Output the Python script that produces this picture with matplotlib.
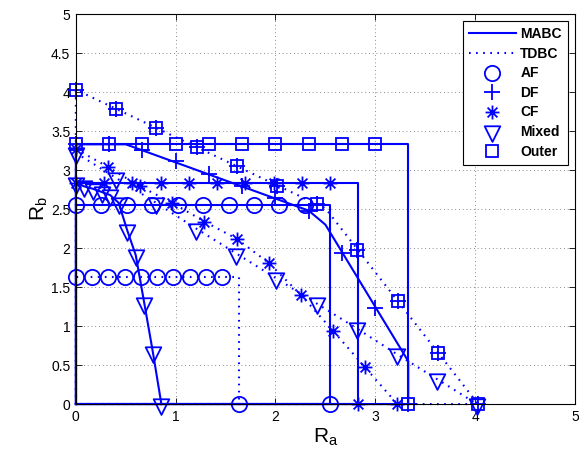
import numpy as np
import matplotlib
matplotlib.use("Agg")
import matplotlib.pyplot as plt
from matplotlib.lines import Line2D
from matplotlib.path import Path

plt.rcParams['font.family'] = ['Liberation Sans', 'DejaVu Sans']

# ---- data (R_a, R_b) ----
# AF
af_mabc_x = [0, 0.255, 0.51, 0.765, 1.02, 1.275, 1.53, 1.785, 2.04, 2.295, 2.55]
af_mabc_y = [2.55, 2.55, 2.55, 2.55, 2.55, 2.55, 2.55, 2.55, 2.55, 2.55, 0]
af_mabc_line_x = [0, 0, 2.55, 2.55, 0]
af_mabc_line_y = [0, 2.55, 2.55, 0, 0]

af_tdbc_x = [0, 0.163, 0.326, 0.489, 0.652, 0.815, 0.978, 1.141, 1.304, 1.467, 1.63]
af_tdbc_y = [1.63, 1.63, 1.63, 1.63, 1.63, 1.63, 1.63, 1.63, 1.63, 1.63, 0]
af_tdbc_line_x = [0, 0, 1.63, 1.63, 0]
af_tdbc_line_y = [0, 1.63, 1.63, 0, 0]

# DF
df_mabc_x = [0, 0.333, 0.667, 1.0, 1.333, 1.667, 2.0, 2.333, 2.667, 3.0, 3.33]
df_mabc_y = [3.33, 3.33, 3.26, 3.11, 2.95, 2.79, 2.64, 2.48, 1.94, 1.23, 0]
df_mabc_line_x = [0, 0, 0.5, 2.333, 2.5, 3.33, 3.33, 0]
df_mabc_line_y = [0, 3.33, 3.33, 2.48, 2.3, 0.55, 0, 0]

df_tdbc_x = [0, 0.403, 0.806, 1.209, 1.612, 2.015, 2.418, 2.821, 3.224, 3.627, 4.03]
df_tdbc_y = [4.03, 3.78, 3.54, 3.29, 3.05, 2.80, 2.56, 1.98, 1.32, 0.66, 0]

# CF
cf_mabc_x = [0, 0.283, 0.566, 0.849, 1.132, 1.415, 1.698, 1.981, 2.264, 2.547, 2.83]
cf_mabc_y = [2.83, 2.83, 2.83, 2.83, 2.83, 2.83, 2.83, 2.83, 2.83, 2.83, 0]
cf_mabc_line_x = [0, 0, 2.83, 2.83, 0]
cf_mabc_line_y = [0, 2.83, 2.83, 0, 0]

cf_tdbc_x = [0, 0.322, 0.644, 0.966, 1.288, 1.61, 1.932, 2.254, 2.576, 2.898, 3.22]
cf_tdbc_y = [3.27, 3.04, 2.79, 2.58, 2.34, 2.12, 1.81, 1.40, 0.94, 0.47, 0]

# Mixed
mix_mabc_x = [0, 0.086, 0.171, 0.257, 0.343, 0.429, 0.514, 0.6, 0.686, 0.771, 0.857]
mix_mabc_y = [2.83, 2.79, 2.76, 2.72, 2.68, 2.58, 2.23, 1.91, 1.29, 0.67, 0]

mix_tdbc_x = [0, 0.402, 0.804, 1.206, 1.608, 2.01, 2.412, 2.814, 3.216, 3.618, 4.02]
mix_tdbc_y = [3.22, 2.90, 2.58, 2.25, 1.93, 1.61, 1.29, 0.97, 0.64, 0.32, 0]

# Outer bounds
out_mabc_x = [0, 0.333, 0.667, 1.0, 1.333, 1.667, 2.0, 2.333, 2.667, 3.0, 3.33]
out_mabc_y = [3.33, 3.33, 3.33, 3.33, 3.33, 3.33, 3.33, 3.33, 3.33, 3.33, 0]
out_mabc_line_x = [0, 0, 3.33, 3.33, 0]
out_mabc_line_y = [0, 3.33, 3.33, 0, 0]

out_tdbc_x = [0, 0.403, 0.806, 1.209, 1.612, 2.015, 2.418, 2.821, 3.224, 3.627, 4.03]
out_tdbc_y = [4.03, 3.78, 3.54, 3.29, 3.05, 2.80, 2.56, 1.98, 1.32, 0.66, 0]
out_tdbc_line_x = [0, 0, 2.5, 4.03, 0]
out_tdbc_line_y = [0, 4.03, 2.51, 0, 0]

x_ticks = [0, 1, 2, 3, 4, 5]
y_ticks = [0, 0.5, 1, 1.5, 2, 2.5, 3, 3.5, 4, 4.5, 5]
y_tick_labels = ['0', '0.5', '1', '1.5', '2', '2.5', '3', '3.5', '4', '4.5', '5']

legend_labels = ['MABC', 'TDBC', 'AF', 'DF', 'CF', 'Mixed', 'Outer']

# ---- styles ----
BLUE = (0, 0, 1)
LW = 1.5
DOT = (0, (0.8, 2.6))
# downward triangle centred on its centroid (like MATLAB)
tri_down = Path([(-1, 0.667), (1, 0.667), (0, -1.333), (-1, 0.667)],
                [Path.MOVETO, Path.LINETO, Path.LINETO, Path.CLOSEPOLY])
# MATLAB-style asterisk: plus and cross overlaid
d = 0.707
star = Path([(-1, 0), (1, 0), (0, -1), (0, 1), (-d, -d), (d, d), (-d, d), (d, -d)],
            [Path.MOVETO, Path.LINETO] * 4)
mk = {
    'AF': dict(marker='o', ms=11),
    'DF': dict(marker='+', ms=11),
    'CF': dict(marker=star, ms=10),
    'Mixed': dict(marker=tri_down, ms=15),
    'Outer': dict(marker='s', ms=9),
}

fig = plt.figure(figsize=(5.79, 4.54), dpi=100)
ax = fig.add_axes([0.131, 0.110, 0.862, 0.859])


def draw_line(x, y, ls):
    ax.plot(x, y, linestyle=ls, color=BLUE, lw=LW, clip_on=False)


def draw_marks(x, y, name):
    ax.plot(x, y, linestyle='none', color=BLUE, mfc='none', mec=BLUE,
            mew=1.3, clip_on=False, **mk[name])


# TDBC (dotted)
draw_line(af_tdbc_line_x, af_tdbc_line_y, DOT)
draw_line(out_tdbc_line_x, out_tdbc_line_y, DOT)
draw_line(cf_tdbc_x, cf_tdbc_y, DOT)
draw_line(mix_tdbc_x, mix_tdbc_y, DOT)

# MABC (solid)
draw_line(af_mabc_line_x, af_mabc_line_y, '-')
draw_line(cf_mabc_line_x, cf_mabc_line_y, '-')
draw_line(df_mabc_line_x, df_mabc_line_y, '-')
draw_line(out_mabc_line_x, out_mabc_line_y, '-')
draw_line(mix_mabc_x, mix_mabc_y, '-')

draw_marks(af_mabc_x, af_mabc_y, 'AF')
draw_marks(af_tdbc_x, af_tdbc_y, 'AF')
draw_marks(df_mabc_x, df_mabc_y, 'DF')
draw_marks(df_tdbc_x, df_tdbc_y, 'DF')
draw_marks(cf_mabc_x, cf_mabc_y, 'CF')
draw_marks(cf_tdbc_x, cf_tdbc_y, 'CF')
draw_marks(mix_mabc_x, mix_mabc_y, 'Mixed')
draw_marks(mix_tdbc_x, mix_tdbc_y, 'Mixed')
draw_marks(out_mabc_x, out_mabc_y, 'Outer')
draw_marks(out_tdbc_x, out_tdbc_y, 'Outer')

ax.set_xlim(0, 5)
ax.set_ylim(0, 5)
ax.set_xticks(x_ticks)
ax.set_yticks(y_ticks)
ax.set_yticklabels(y_tick_labels)
ax.tick_params(direction='in', top=True, right=True, length=4, width=0.6,
               labelsize=10, pad=4)
ax.grid(True, linestyle=(0, (1, 3.5)), color='0.4', lw=0.6)
for sp in ax.spines.values():
    sp.set_linewidth(0.8)

ax.set_xlabel(r'R$_\mathregular{a}$', fontsize=15, labelpad=2)
ax.set_ylabel(r'R$_\mathregular{b}$', fontsize=15, labelpad=1)

handles = [
    Line2D([], [], color=BLUE, lw=LW, linestyle='-'),
    Line2D([], [], color=BLUE, lw=LW, linestyle=DOT),
]
for name in ['AF', 'DF', 'CF', 'Mixed', 'Outer']:
    handles.append(Line2D([], [], linestyle='none', color=BLUE, mfc='none',
                          mec=BLUE, mew=1.3, **mk[name]))
leg = ax.legend(handles, legend_labels, loc='upper right',
                prop={'weight': 'bold', 'size': 10}, fancybox=False,
                edgecolor='k', framealpha=1, handlelength=3.4,
                handletextpad=0.3, labelspacing=0.4, borderpad=0.45,
                borderaxespad=0.5)
leg.get_frame().set_linewidth(0.8)

fig.savefig('out.png', dpi=100)
